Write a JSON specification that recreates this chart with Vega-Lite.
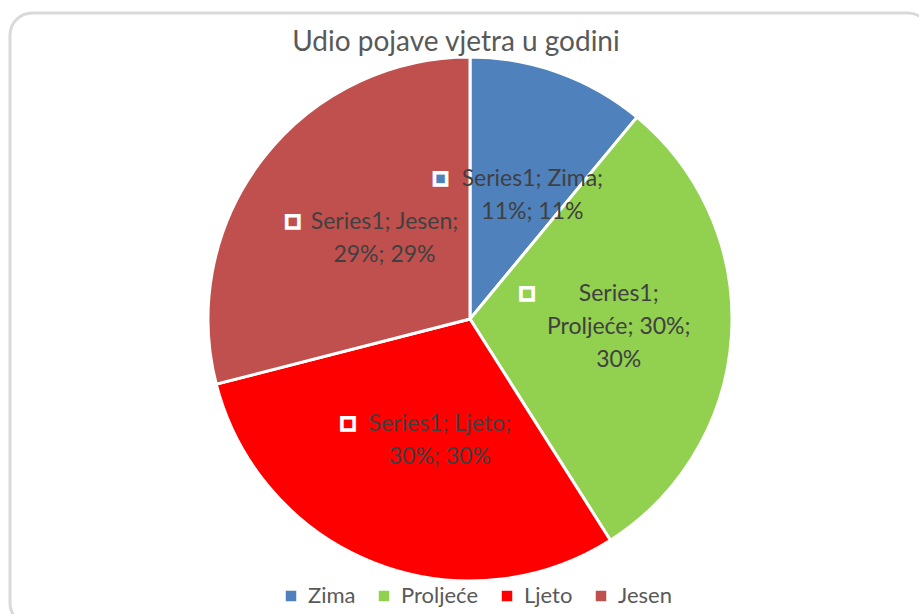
{
  "$schema": "https://vega.github.io/schema/vega-lite/v6.json",
  "width": 920,
  "height": 612,
  "autosize": {"type": "none"},
  "padding": {"left": 10, "top": 13, "right": 0, "bottom": 0},
  "background": "white",
  "view": {"stroke": "#D9D9D9", "strokeWidth": 3, "cornerRadius": 22, "fill": "white"},
  "title": {
    "text": "Udio pojave vjetra u godini",
    "font": "Lato",
    "fontSize": 28,
    "fontWeight": "normal",
    "color": "#595959",
    "anchor": "middle",
    "offset": -44,
    "dx": -14
  },
  "config": {
    "font": "Lato"
  },
  "data": {
    "values": [
      {"Season": "Zima", "Value": 11, "Order": 1, "Label": "Series1; Zima;\n11%; 11%"},
      {"Season": "Proljeće", "Value": 30, "Order": 2, "Label": "Series1;\nProljeće; 30%;\n30%"},
      {"Season": "Ljeto", "Value": 30, "Order": 3, "Label": "Series1; Ljeto;\n30%; 30%"},
      {"Season": "Jesen", "Value": 29, "Order": 4, "Label": "Series1; Jesen;\n29%; 29%"}
    ]
  },
  "transform": [
    {"stack": "Value", "groupby": [], "sort": [{"field": "Order", "order": "ascending"}], "as": ["v0", "v1"]},
    {"calculate": "(datum.v0 + datum.v1) / 2", "as": "mid"}
  ],
  "layer": [
    {
      "mark": {"type": "arc", "outerRadius": 262, "stroke": "white", "strokeWidth": 3},
      "encoding": {
        "theta": {"field": "v0", "type": "quantitative", "scale": {"domain": [0, 100]}},
        "theta2": {"field": "v1"},
        "color": {
          "field": "Season",
          "type": "nominal",
          "sort": ["Zima", "Proljeće", "Ljeto", "Jesen"],
          "scale": {"domain": ["Zima", "Proljeće", "Ljeto", "Jesen"], "range": ["#4F81BD", "#92D050", "#FF0000", "#C0504D"]},
          "legend": {
            "title": null,
            "orient": "none",
            "direction": "horizontal",
            "columns": 4,
            "legendX": 270,
            "legendY": 572,
            "symbolType": "square",
            "symbolSize": 110,
            "symbolStrokeWidth": 0,
            "labelFont": "Lato",
            "labelFontSize": 22,
            "labelColor": "#595959",
            "labelOffset": 6,
            "columnPadding": 17
          }
        }
      }
    },
    {
      "transform": [{"filter": "datum.Season != 'Proljeće'"}],
      "mark": {"type": "text", "radius": 131, "dx": 18, "dy": -17, "font": "Lato", "fontSize": 23, "color": "#404040", "lineBreak": "\n", "lineHeight": 33, "align": "center", "baseline": "middle"},
      "encoding": {
        "theta": {"field": "mid", "type": "quantitative", "scale": {"domain": [0, 100]}},
        "text": {"field": "Label"}
      }
    },
    {
      "transform": [{"filter": "datum.Season == 'Proljeće'"}],
      "mark": {"type": "text", "radius": 131, "dx": 18, "dy": -33, "font": "Lato", "fontSize": 23, "color": "#404040", "lineBreak": "\n", "lineHeight": 33, "align": "center", "baseline": "middle"},
      "encoding": {
        "theta": {"field": "mid", "type": "quantitative", "scale": {"domain": [0, 100]}},
        "text": {"field": "Label"}
      }
    },
    {
      "transform": [{"filter": "datum.Season != 'Proljeće'"}],
      "mark": {"type": "text", "text": "■", "font": "DejaVu Sans", "fontSize": 16, "stroke": "white", "strokeWidth": 3.5, "radius": 131, "dx": -74, "dy": -18, "align": "center", "baseline": "middle"},
      "encoding": {
        "theta": {"field": "mid", "type": "quantitative", "scale": {"domain": [0, 100]}},
        "fill": {"field": "Season", "type": "nominal", "scale": {"domain": ["Zima", "Proljeće", "Ljeto", "Jesen"], "range": ["#4F81BD", "#92D050", "#FF0000", "#C0504D"]}, "legend": null}
      }
    },
    {
      "transform": [{"filter": "datum.Season == 'Proljeće'"}],
      "mark": {"type": "text", "text": "■", "font": "DejaVu Sans", "fontSize": 16, "stroke": "white", "strokeWidth": 3.5, "radius": 131, "dx": -74, "dy": -34, "align": "center", "baseline": "middle"},
      "encoding": {
        "theta": {"field": "mid", "type": "quantitative", "scale": {"domain": [0, 100]}},
        "fill": {"field": "Season", "type": "nominal", "scale": {"domain": ["Zima", "Proljeće", "Ljeto", "Jesen"], "range": ["#4F81BD", "#92D050", "#FF0000", "#C0504D"]}, "legend": null}
      }
    }
  ]
}
